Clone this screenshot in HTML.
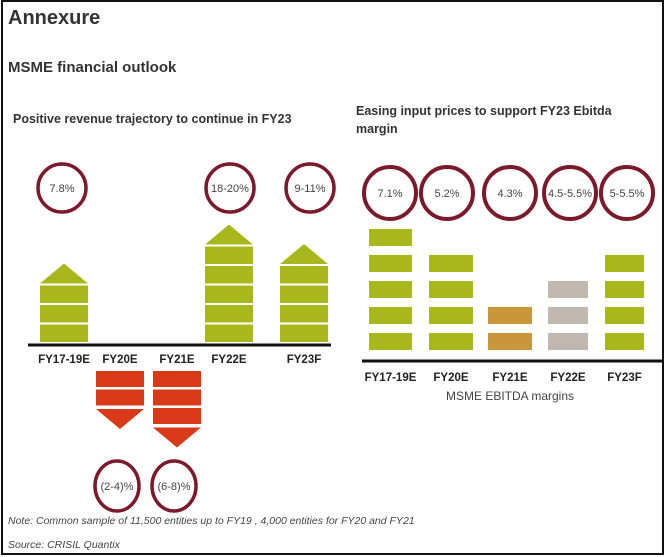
<!DOCTYPE html>
<html><head><meta charset="utf-8"><style>
body{margin:0;background:#fff;}
#wrap{position:relative;width:667px;height:557px;overflow:hidden;font-family:"Liberation Sans",sans-serif;color:#333;}
</style></head><body>
<div id="wrap">
<svg id="svg" width="667" height="557" xmlns="http://www.w3.org/2000/svg">
<rect x="2" y="1" width="661" height="553" fill="none" stroke="#111" stroke-width="2"/>
<text x="8" y="24" font-size="20" font-weight="bold" fill="#333">Annexure</text>
<text x="8" y="72" font-size="15" font-weight="bold" fill="#333">MSME financial outlook</text>
<text x="13" y="123" font-size="12.5" font-weight="bold" fill="#333">Positive revenue trajectory to continue in FY23</text>
<text x="356" y="115" font-size="12.5" font-weight="bold" fill="#333">Easing input prices to support FY23 Ebitda</text>
<text x="356" y="133" font-size="12.5" font-weight="bold" fill="#333">margin</text>
<line x1="28" y1="345" x2="331" y2="345" stroke="#111" stroke-width="3"/>
<line x1="362" y1="361" x2="662" y2="361" stroke="#111" stroke-width="3"/>
<text x="510" y="400" font-size="12" fill="#444" text-anchor="middle">MSME EBITDA margins</text>
<text x="8" y="524" font-size="10.5" font-style="italic" fill="#444">Note: Common sample of 11,500 entities up to FY19 , 4,000 entities for FY20 and FY21</text>
<text x="8" y="548" font-size="10.5" font-style="italic" fill="#444">Source: CRISIL Quantix</text>
<g id="left"></g><g id="right"></g>
</svg>
<script>
// left chart data
const leftCats = ["FY17-19E","FY20E","FY21E","FY22E","FY23F"];
const leftBlocks = [3,-2,-3,5,4];   // positive = up arrow blocks, negative = down
const leftLabels = ["7.8%","(2-4)%","(6-8)%","18-20%","9-11%"];
// right chart data
const rightCats = ["FY17-19E","FY20E","FY21E","FY22E","FY23F"];
const rightBlocks = [5,4,2,3,4];
const rightLabels = ["7.1%","5.2%","4.3%","4.5-5.5%","5-5.5%"];
const rightColors = ["#a8b81c","#a8b81c","#c9963a","#c0b8ae","#a8b81c"];

const NS="http://www.w3.org/2000/svg";
function mk(tag,attrs,parent){const e=document.createElementNS(NS,tag);for(const k in attrs)e.setAttribute(k,attrs[k]);parent.appendChild(e);return e;}

const lx = i => [40,96,153,205,280][i];
const lw = 48, lBase=345, lStep=19.5, lBlk=17.5;
const lyUp = n => lBase-3-n*lStep;
const L=document.getElementById('left');
leftCats.forEach((c,i)=>{
  const n=leftBlocks[i], x=lx(i);
  const t=mk('text',{x:x+lw/2,y:363,'font-size':11.5,'font-weight':'bold','text-anchor':'middle',fill:'#222'},L);
  t.textContent=c;
  
  
  if(n>0){
    for(let k=0;k<n;k++){
      const r=mk('rect',{x:x,y:lyUp(k+1)+2,width:lw,height:lBlk,fill:'#a8b81c'},L);
      
      
    }
    const top=lyUp(n)+2;
    const p=mk('polygon',{points:`${x},${top-2} ${x+lw},${top-2} ${x+lw/2},${top-22}`,fill:'#a8b81c'},L);
    
    
    const cx=[62,0,0,230,310][i]||x+lw/2;
    const e=mk('ellipse',{cx:cx,cy:188,rx:24,ry:24,fill:'none',stroke:'#7a1a2a','stroke-width':3.5},L);
    
    
    const tt=mk('text',{x:cx,y:192,'font-size':11,'text-anchor':'middle',fill:'#444'},L);
    tt.textContent=leftLabels[i];
    
    
  } else if(n<0){
    const m=-n;
    for(let k=0;k<m;k++){
      const r=mk('rect',{x:x,y:371+k*18.5,width:lw,height:16,fill:'#d83a17'},L);
      
      
    }
    const b=371+m*18.5+1;
    const p=mk('polygon',{points:`${x},${b} ${x+lw},${b} ${x+lw/2},${b+20}`,fill:'#d83a17'},L);
    
    
    const cx=x+lw/2-3;
    const e=mk('ellipse',{cx:cx,cy:486,rx:22,ry:25,fill:'none',stroke:'#7a1a2a','stroke-width':3.5},L);
    
    
    const tt=mk('text',{x:cx,y:490,'font-size':11,'text-anchor':'middle',fill:'#444'},L);
    tt.textContent=leftLabels[i];
    
    
  }
});

const rx = i => [369,429,488,548,605][i];
const rwid = [43,44,44,40,39];
const ry = k => 333 - k*26;
const R=document.getElementById('right');
rightCats.forEach((c,i)=>{
  const x=rx(i), w=rwid[i];
  for(let k=0;k<rightBlocks[i];k++){
    const r=mk('rect',{x:x,y:ry(k),width:w,height:17,fill:rightColors[i]},R);
    
    
  }
  const cx=[390,447,510,570,627][i];
  const e=mk('circle',{cx:cx,cy:193,r:26,fill:'none',stroke:'#7a1a2a','stroke-width':4},R);
  
  
  const tt=mk('text',{x:cx,y:197,'font-size':11,'text-anchor':'middle',fill:'#444'},R);
  tt.textContent=rightLabels[i];
  
  
  const t=mk('text',{x:x+w/2,y:381,'font-size':11.5,'font-weight':'bold','text-anchor':'middle',fill:'#222'},R);
  t.textContent=c;
  
  
});
</script>
</div>
</body></html>
